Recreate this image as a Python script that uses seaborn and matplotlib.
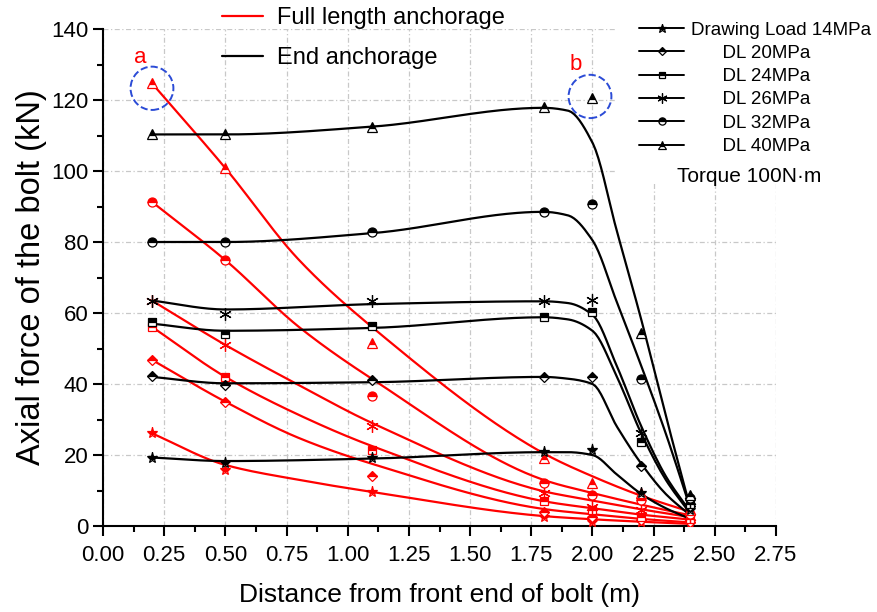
import numpy as np
import matplotlib
matplotlib.use("Agg")
import matplotlib.pyplot as plt
import seaborn as sns
from matplotlib.lines import Line2D
from matplotlib.patches import Ellipse, Rectangle

# measured points (distance along bolt, m)
x_pts = [0.2, 0.5, 1.1, 1.8, 2.0, 2.2, 2.4]

# end anchorage, measured axial force (kN)
end_14 = [19.2, 17.7, 19.2, 20.8, 21.4, 9.3, 4.5]
end_20 = [42.3, 39.7, 41.0, 42.0, 42.0, 16.9, 5.5]
end_24 = [57.5, 54.1, 56.4, 59.0, 60.4, 23.6, 6.3]
end_26 = [63.5, 59.6, 63.4, 63.3, 63.7, 26.2, 7.0]
end_32 = [80.1, 80.0, 82.8, 88.5, 90.7, 41.4, 7.8]
end_40 = [110.4, 110.4, 112.5, 117.9, 120.5, 54.4, 8.7]

# full length anchorage, measured axial force (kN)
full_14 = [26.1, 15.8, 9.5, 2.4, 1.2, 1.0, 0.5]
full_20 = [46.8, 35.0, 14.1, 4.0, 2.6, 1.7, 1.0]
full_24 = [56.1, 42.1, 21.4, 7.0, 4.5, 2.6, 2.0]
full_26 = [63.5, 51.0, 28.3, 9.2, 5.4, 4.5, 2.5]
full_32 = [91.3, 74.9, 36.6, 12.0, 8.7, 7.3, 3.5]
full_40 = [124.7, 100.8, 51.5, 19.2, 12.0, 9.4, 4.5]

# fitted curves
x_end_fit = [0.2, 0.5, 1.1, 1.8, 1.9, 2.0, 2.1, 2.2, 2.3, 2.4]
fit_end_14 = [19.3, 18.3, 19.0, 20.8, 20.8, 20.0, 14.5, 9.0, 5.0, 2.0]
fit_end_20 = [42.0, 40.2, 40.5, 42.0, 41.5, 40.0, 28.0, 17.5, 9.0, 3.0]
fit_end_24 = [57.0, 55.0, 55.8, 58.8, 58.2, 55.0, 42.0, 26.0, 13.0, 3.5]
fit_end_26 = [63.5, 61.0, 62.5, 63.3, 62.8, 59.5, 45.0, 28.0, 14.0, 4.0]
fit_end_32 = [80.0, 80.0, 82.5, 88.5, 87.5, 80.5, 63.0, 45.0, 26.0, 5.0]
fit_end_40 = [110.3, 110.3, 112.5, 117.8, 117.0, 108.0, 83.0, 58.0, 31.0, 5.0]

x_full_fit = [0.2, 0.5, 0.8, 1.1, 1.8, 2.0, 2.2, 2.4]
fit_full_14 = [26.1, 17.2, 13.0, 9.6, 2.8, 1.9, 1.2, 0.6]
fit_full_20 = [46.8, 35.0, 24.8, 17.5, 4.8, 3.3, 2.0, 1.0]
fit_full_24 = [56.1, 42.0, 31.3, 22.5, 7.0, 5.0, 3.2, 1.8]
fit_full_26 = [63.5, 51.0, 39.7, 29.0, 9.8, 7.2, 4.7, 2.5]
fit_full_32 = [91.3, 74.9, 56.1, 41.4, 13.0, 9.3, 6.0, 3.0]
fit_full_40 = [124.7, 100.8, 75.0, 56.0, 20.5, 14.0, 8.5, 4.0]

labels = ["Drawing Load 14MPa", "      DL 20MPa", "      DL 24MPa",
          "      DL 26MPa", "      DL 32MPa", "      DL 40MPa"]
markers = ["*", "D", "s", (6, 2, 0), "o", "^"]
msizes = [8, 5.5, 6, 9, 6.5, 7]


def smooth(xk, yk, n=200):
    # monotone cubic (pchip) through the read-off curve points
    xk = np.asarray(xk, float)
    yk = np.asarray(yk, float)
    h = np.diff(xk)
    d = np.diff(yk) / h
    m = np.zeros_like(yk)
    m[0], m[-1] = d[0], d[-1]
    for k in range(1, len(xk) - 1):
        if d[k - 1] * d[k] > 0:
            w1 = 2 * h[k] + h[k - 1]
            w2 = h[k] + 2 * h[k - 1]
            m[k] = (w1 + w2) / (w1 / d[k - 1] + w2 / d[k])
    xs = np.linspace(xk[0], xk[-1], n)
    i = np.clip(np.searchsorted(xk, xs) - 1, 0, len(h) - 1)
    t = (xs - xk[i]) / h[i]
    ys = ((2 * t**3 - 3 * t**2 + 1) * yk[i] + (t**3 - 2 * t**2 + t) * h[i] * m[i]
          + (-2 * t**3 + 3 * t**2) * yk[i + 1] + (t**3 - t**2) * h[i] * m[i + 1])
    return xs, ys


sns.set_style("ticks")
plt.rcParams["font.family"] = ["Liberation Sans", "DejaVu Sans"]
plt.rcParams.update({"text.color": "black", "axes.labelcolor": "black",
                     "xtick.color": "black", "ytick.color": "black",
                     "axes.edgecolor": "black"})

fig = plt.figure(figsize=(8.77, 6.12), dpi=100)
ax = fig.add_axes([0.1175, 0.1405, 0.7673, 0.8121])

end_meas = [end_14, end_20, end_24, end_26, end_32, end_40]
full_meas = [full_14, full_20, full_24, full_26, full_32, full_40]
end_fit = [fit_end_14, fit_end_20, fit_end_24, fit_end_26, fit_end_32, fit_end_40]
full_fit = [fit_full_14, fit_full_20, fit_full_24, fit_full_26, fit_full_32, fit_full_40]

for yf in full_fit:
    xs, ys = smooth(x_full_fit, yf)
    sns.lineplot(x=xs, y=ys, color="red", lw=1.6, ax=ax, zorder=2)
for yf in end_fit:
    xs, ys = smooth(x_end_fit, yf)
    sns.lineplot(x=xs, y=ys, color="black", lw=1.6, ax=ax, zorder=2)

for mk, sz, ym in zip(markers, msizes, full_meas):
    ax.plot(x_pts, ym, ls="none", marker=mk, ms=sz, fillstyle="top",
            mfc="red", mfcalt="white", mec="red", mew=0.9, zorder=3)
for mk, sz, ym in zip(markers, msizes, end_meas):
    ax.plot(x_pts, ym, ls="none", marker=mk, ms=sz, fillstyle="top",
            mfc="black", mfcalt="white", mec="black", mew=0.9, zorder=3)

ax.set_xlim(0, 2.75)
ax.set_ylim(0, 140)
ax.set_xticks(np.arange(0, 2.76, 0.25))
ax.set_xticks(np.arange(0.125, 2.75, 0.25), minor=True)
ax.set_yticks(np.arange(0, 141, 20))
ax.set_yticks(np.arange(10, 140, 20), minor=True)
ax.xaxis.set_major_formatter(matplotlib.ticker.FormatStrFormatter("%.2f"))
ax.tick_params(which="major", direction="out", length=7, width=1.5, labelsize=16)
ax.tick_params(axis="x", which="major", pad=7)
ax.tick_params(which="minor", direction="out", length=4, width=1.5)
ax.grid(True, which="major", color="#c8c8c8", ls=(0, (4, 2, 1, 2)), lw=0.9)
ax.set_axisbelow(True)
for s in ["top", "right"]:
    ax.spines[s].set_visible(False)
for s in ["left", "bottom"]:
    ax.spines[s].set_linewidth(1.5)

ax.set_xlabel("Distance from front end of bolt (m)", fontsize=19, labelpad=12)
ax.set_ylabel("Axial force of the bolt (kN)", fontsize=23.5, labelpad=3)

# white block behind the right legend
ax.add_patch(Rectangle((617 / 877, 1 - 182 / 612), 0.4, 0.4, transform=fig.transFigure,
                       fc="white", ec="none", zorder=1.5, clip_on=False))

# circled points
ax.add_patch(Ellipse((0.2, 123.3), 0.175, 12.2, fill=False, ec="#2b4bd6", ls="--", lw=1.4, zorder=4))
ax.add_patch(Ellipse((1.99, 121.0), 0.175, 12.2, fill=False, ec="#2b4bd6", ls="--", lw=1.4, zorder=4))
ax.text(0.15, 132, "a", color="red", fontsize=16, ha="center", va="center")
ax.text(1.93, 130, "b", color="red", fontsize=16, ha="center", va="center")

# anchorage legend
h1 = [Line2D([], [], color="red", lw=1.6), Line2D([], [], color="black", lw=1.6)]
leg1 = fig.legend(h1, ["Full length anchorage", "End anchorage"], loc="upper left",
                  bbox_to_anchor=(0.253, 0.988), frameon=False, fontsize=17,
                  handlelength=1.74, handletextpad=0.6, labelspacing=0.75,
                  borderpad=0, borderaxespad=0)

# drawing load legend
h2 = [Line2D([], [], color="black", lw=1.4, marker=mk, ms=sz * 0.8, fillstyle="top",
             mfc="black", mfcalt="white", mec="black", mew=0.9)
      for mk, sz in zip(markers, msizes)]
leg2 = fig.legend(h2, labels, loc="upper left", bbox_to_anchor=(0.729, 0.965),
                  frameon=False, fontsize=13.5, handlelength=2.4, handletextpad=0.37,
                  labelspacing=0.33, borderpad=0, borderaxespad=0)

fig.text(677 / 877, 1 - 176 / 612, "Torque 100N\u00b7m", fontsize=15, ha="left", va="center")

fig.savefig("out.png", dpi=100)
